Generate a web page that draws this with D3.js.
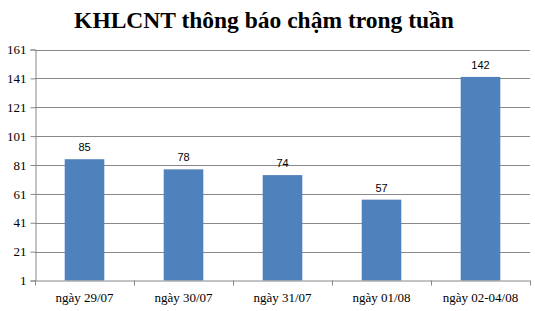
<!DOCTYPE html>
<html>
<head>
<meta charset="utf-8">
<script src="https://cdn.jsdelivr.net/npm/d3@7"></script>
<style>
  body { margin: 0; background: #fff; }
  svg { display: block; }
</style>
</head>
<body>
<svg id="chart" width="535" height="311"></svg>
<script>
const categories = ['ngày 29/07', 'ngày 30/07', 'ngày 31/07', 'ngày 01/08', 'ngày 02-04/08'];
const values = [85, 78, 74, 57, 142];
const yTicks = [1, 21, 41, 61, 81, 101, 121, 141, 161];
const title = 'KHLCNT thông báo chậm trong tuần';

const plotLeft = 35, plotRight = 530, plotTop = 49.5, plotBottom = 280.5;
const svg = d3.select('#chart');

const x = d3.scaleBand().domain(categories).range([plotLeft, plotRight]).paddingInner(0.6).paddingOuter(0.3);
const y = d3.scaleLinear().domain([1, 161]).range([plotBottom, plotTop]);

// title
svg.append('text')
  .attr('x', 264).attr('y', 28)
  .attr('text-anchor', 'middle')
  .style('font-family', '"Liberation Serif", serif')
  .style('font-weight', 'bold')
  .style('font-size', '23.5px')
  .text(title);

// gridlines
svg.append('g').selectAll('line').data(yTicks.slice(1)).join('line')
  .attr('x1', plotLeft).attr('x2', plotRight)
  .attr('y1', d => Math.round(y(d)) + 0.5).attr('y2', d => Math.round(y(d)) + 0.5)
  .attr('stroke', '#888').attr('stroke-width', 1);

// y axis
const yAxis = d3.axisLeft(y).tickValues(yTicks).tickSize(5).tickPadding(4);
const gy = svg.append('g').attr('transform', 'translate(' + (plotLeft + 0.5) + ',0)').call(yAxis);
gy.selectAll('path, line').attr('stroke', '#888');
gy.selectAll('text')
  .style('font-family', '"Liberation Serif", serif')
  .style('font-size', '13px').attr('fill', '#000');

// bars
svg.append('g').selectAll('rect').data(values).join('rect')
  .attr('x', (d, i) => x(categories[i]))
  .attr('width', x.bandwidth())
  .attr('y', d => y(d))
  .attr('height', d => plotBottom - y(d))
  .attr('fill', '#4F81BD');

// data labels
svg.append('g').selectAll('text').data(values).join('text')
  .attr('x', (d, i) => x(categories[i]) + x.bandwidth() / 2)
  .attr('y', d => y(d) - 8)
  .attr('text-anchor', 'middle')
  .style('font-family', '"Liberation Sans", sans-serif')
  .style('font-size', '11px')
  .text(d => d);

// x axis
const step = (plotRight - plotLeft) / categories.length;
const gx = svg.append('g');
gx.append('line').attr('x1', plotLeft).attr('x2', plotRight)
  .attr('y1', plotBottom + 0.5).attr('y2', plotBottom + 0.5).attr('stroke', '#888');
gx.selectAll('line.tick').data(d3.range(categories.length + 1)).join('line')
  .attr('class', 'tick')
  .attr('x1', i => Math.round(plotLeft + i * step) + 0.5).attr('x2', i => Math.round(plotLeft + i * step) + 0.5)
  .attr('y1', plotBottom).attr('y2', plotBottom + 5).attr('stroke', '#888');
gx.selectAll('text').data(categories).join('text')
  .attr('x', d => x(d) + x.bandwidth() / 2)
  .attr('y', 302)
  .attr('text-anchor', 'middle')
  .style('font-family', '"Liberation Serif", serif')
  .style('font-size', '13px')
  .text(d => d);
</script>
</body>
</html>
